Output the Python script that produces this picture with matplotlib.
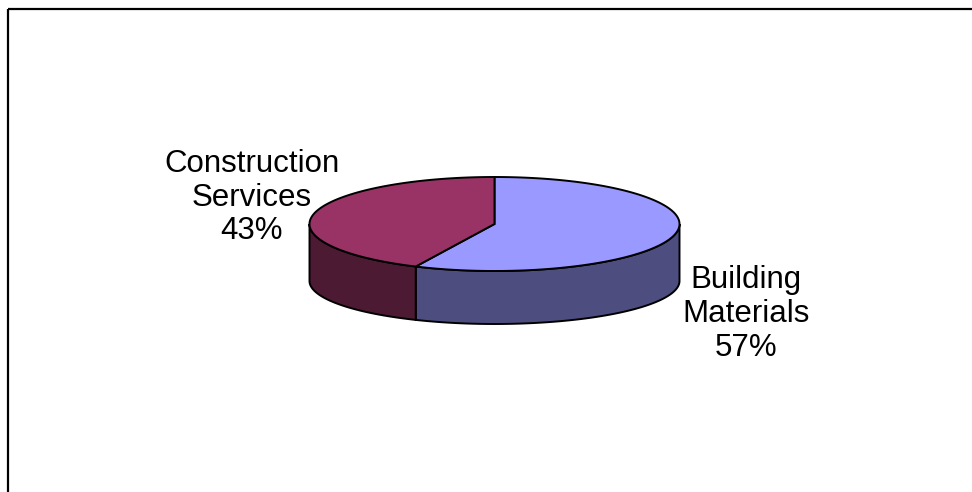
import numpy as np
import matplotlib.pyplot as plt
from matplotlib.patches import Polygon, Rectangle

# data
labels = ["Building\nMaterials", "Construction\nServices"]
shares = [57, 43]
top_colors = ["#9999FF", "#993366"]
side_colors = ["#4D4D80", "#4D1A33"]

# pie geometry (pixels)
cx = 494.5
cy_top, b_top = 224, 47
cy_bot, b_bot = 281, 43
a = 185

plt.rcParams['font.family'] = ['Liberation Sans', 'DejaVu Sans']

fig = plt.figure(figsize=(9.72, 4.92), dpi=100)
ax = fig.add_axes([0, 0, 1, 1])
ax.set_xlim(0, 972)
ax.set_ylim(492, 0)
ax.axis('off')

# chart frame (runs off right and bottom)
ax.add_patch(Rectangle((7.5, 8.5), 1000, 1000, fill=False, ec='black', lw=1.6))


def top_pt(t):
    return cx + a * np.cos(t), cy_top - b_top * np.sin(t)


def bot_pt(t):
    return cx + a * np.cos(t), cy_bot - b_bot * np.sin(t)


# slice angles: start at 12 o'clock, clockwise
fracs = np.array(shares) / sum(shares)
start = np.pi / 2
ranges = []
for f in fracs:
    end = start - f * 2 * np.pi
    ranges.append((end, start))
    start = end

# side walls, front half only (angles between -pi and 0)
for (t1, t2), col in zip(ranges, side_colors):
    for off in (0, 2 * np.pi):
        s1 = max(t1 + off, -np.pi)
        s2 = min(t2 + off, 0)
        if s2 <= s1:
            continue
        ts = np.linspace(s1, s2, 100)
        top = np.array([top_pt(t) for t in ts])
        bot = np.array([bot_pt(t) for t in ts[::-1]])
        pts = np.vstack([top, bot])
        ax.add_patch(Polygon(pts, closed=True, fc=col, ec='black', lw=1.4, zorder=2))

# top faces
for (t1, t2), col in zip(ranges, top_colors):
    ts = np.linspace(t1, t2, 200)
    arc = np.array([top_pt(t) for t in ts])
    pts = np.vstack([[cx, cy_top], arc])
    ax.add_patch(Polygon(pts, closed=True, fc=col, ec='black', lw=1.4, zorder=3))

# labels
ax.text(746, 314, labels[0] + "\n%d%%" % shares[0], ha='center', va='center',
        fontsize=22.5, linespacing=1.16)
ax.text(251.5, 197.5, labels[1] + "\n%d%%" % shares[1], ha='center', va='center',
        fontsize=22.5, linespacing=1.16)

fig.savefig("out.png", dpi=100)
